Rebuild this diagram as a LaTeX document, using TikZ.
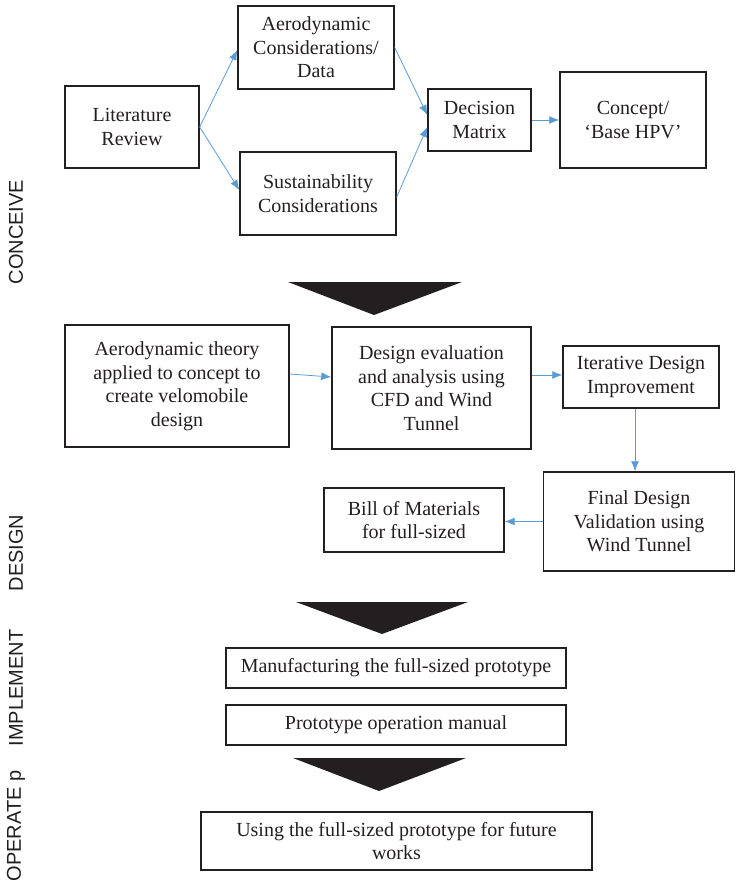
\documentclass[tikz,border=0pt]{standalone}
\usepackage{fontspec}
\setmainfont{Liberation Serif}
\setsansfont{Liberation Sans}
\usetikzlibrary{arrows.meta,calc}
\definecolor{arrblue}{HTML}{5B9BD5}
\definecolor{ink}{HTML}{231F20}
\tikzset{
  box/.style={draw=ink, line width=1.4pt, align=center, inner sep=0pt, text=ink,
    font=\fontsize{20}{23.5}\selectfont},
  conn/.style={draw=arrblue, line width=0.8pt, -{Latex[length=10pt,width=8pt]}},
  phase/.style={rotate=90, text=ink, font=\sffamily\fontsize{20}{24}\selectfont},
  bigtri/.style={fill=ink}
}
\begin{document}
\begin{tikzpicture}[x=1pt,y=-1pt]
\useasboundingbox (0,0) rectangle (736,886);
% boxes
\node[box, minimum width=134, minimum height=82] (lit) at (132,127) {Literature\\Review};
\node[box, minimum width=156, minimum height=83] (aero) at (316,47.5) {Aerodynamic\\Considerations/\\Data};
\node[box, minimum width=156, minimum height=83] (sust) at (318,193.5) {Sustainability\\Considerations};
\node[box, minimum width=103, minimum height=62] (dec) at (479.5,120) {Decision\\Matrix};
\node[box, minimum width=146, minimum height=96] (concept) at (633,120) {Concept/\\‘Base HPV’};
\node[box, minimum width=224, minimum height=122] (theory) at (177,386) {Aerodynamic theory\\applied to concept to\\create velomobile\\design};
\node[box, minimum width=199, minimum height=122] (eval) at (431.5,388) {Design evaluation\\and analysis using\\CFD and Wind\\Tunnel};
\node[box, minimum width=156, minimum height=62] (iter) at (641,377) {Iterative Design\\Improvement};
\node[box, minimum width=191, minimum height=99] (final) at (639,521.5) {Final Design\\Validation using\\Wind Tunnel};
\node[box, minimum width=180, minimum height=64] (bill) at (414,520) {Bill of Materials\\for full-sized};
\node[box, minimum width=340, minimum height=40] (manu) at (396,668) {Manufacturing the full-sized prototype};
\node[box, minimum width=340, minimum height=40] (manual) at (396,725) {Prototype operation manual};
\node[box, minimum width=391, minimum height=58] (using) at (396.5,841) {Using the full-sized prototype for future\\works};
% big arrows
\fill[bigtri] (288,282) -- (462,282) -- (374,315) -- cycle;
\fill[bigtri] (296,602) -- (468,602) -- (382,634) -- cycle;
\fill[bigtri] (293,758) -- (466,758) -- (379,791) -- cycle;
% connectors
\draw[conn] (lit.east) -- ($(aero.west)+(0,2.5)$);
\draw[conn] (lit.east) -- ($(sust.west)+(0,-3.5)$);
\draw[conn] (aero.east) -- ($(dec.west)+(0,-5)$);
\draw[conn] ($(sust.east)+(0,3.5)$) -- ($(dec.west)+(0,7)$);
\draw[conn] (dec.east) -- (concept.west);
\draw[conn] ($(theory.east)+(0,-12)$) -- ($(eval.west)+(0,-11)$);
\draw[conn] ($(eval.east)+(0,-13)$) -- ($(iter.west)+(0,-2)$);
\coordinate (itb) at ($(iter.south)+(-6,0)$);
\draw[conn] (itb) -- (itb |- final.north);
\draw[conn] (final.west) -- (final.west -| bill.east);
% phase labels
\node[phase] (pc) at (16,232) {CONCEIVE};
\node[phase] (pd) at (16,553) {DESIGN};
\node[phase] (pi) at (16,688) {IMPLEMENT};
\node[phase] (po) at (16,826) {OPERATE p};
\end{tikzpicture}
\end{document}
